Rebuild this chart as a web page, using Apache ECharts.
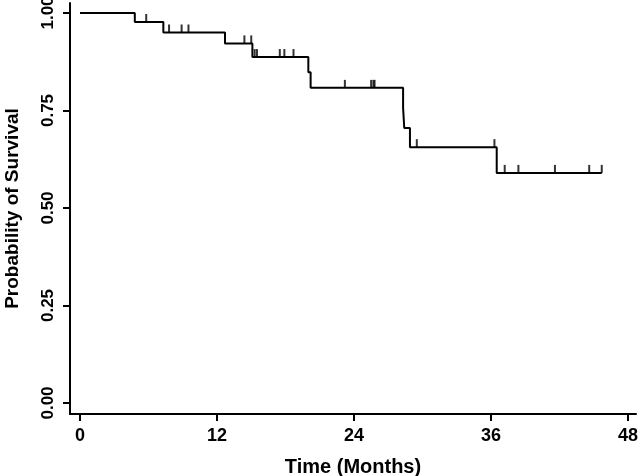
<!DOCTYPE html>
<html>
<head>
<meta charset="utf-8">
<script src="https://cdn.jsdelivr.net/npm/echarts@6/dist/echarts.min.js"></script>
<style>
html,body{margin:0;padding:0;background:#fff;}
#chart{width:640px;height:476px;}
</style>
</head>
<body>
<div id="chart"></div>
<script>
// Kaplan-Meier step points: time (months) and survival after that time
var stepTimes = [0, 4.8, 7.3, 12.7, 15.1, 20.0, 20.2, 28.3, 28.4, 28.9, 36.5, 45.7];
var stepSurv  = [1.0, 0.977, 0.950, 0.922, 0.887, 0.848, 0.808, 0.757, 0.705, 0.656, 0.590, 0.590];
// Censored observations: time and survival level
var censorTimes = [5.8, 7.8, 8.9, 9.5, 14.4, 15.0, 15.3, 15.5, 17.5, 17.9, 18.7, 23.2, 25.5, 25.7, 25.8, 29.5, 36.3, 37.2, 38.4, 41.6, 44.6, 45.7];
var censorSurv  = [0.977, 0.950, 0.950, 0.950, 0.922, 0.922, 0.887, 0.887, 0.887, 0.887, 0.887, 0.808, 0.808, 0.808, 0.808, 0.656, 0.656, 0.590, 0.590, 0.590, 0.590, 0.590];
var xTicks = [0, 12, 24, 36, 48];
var yTicks = [0, 0.25, 0.5, 0.75, 1.0];

var stepData = stepTimes.map(function(t,i){return [t, stepSurv[i]];});
var censorData = censorTimes.map(function(t,i){return [t, censorSurv[i]];});

var chart = echarts.init(document.getElementById('chart'), null, {renderer:'canvas'});
var font = '"Liberation Sans", Arial, sans-serif';
chart.setOption({
  animation:false,
  backgroundColor:'#fff',
  grid:{left:70, right:4, top:3, bottom:62, containLabel:false, outerBoundsMode:'none'},
  xAxis:{
    type:'value', min:-0.876, max:48.7,
    name:'Time (Months)', nameLocation:'middle', nameGap:43,
    nameTextStyle:{fontFamily:font, fontWeight:'bold', fontSize:20, color:'#000'},
    axisLine:{show:true, onZero:false, lineStyle:{color:'#000', width:2}},
    axisTick:{show:true, length:7, customValues:xTicks, lineStyle:{color:'#000', width:2}},
    axisLabel:{customValues:xTicks, margin:13, fontFamily:font, fontWeight:'bold', fontSize:18, color:'#000',
      formatter:function(v){return String(v);}},
    splitLine:{show:false}
  },
  yAxis:{
    type:'value', min:-0.0282, max:1.0256,
    name:'Probability of Survival', nameLocation:'middle', nameGap:48,
    nameTextStyle:{fontFamily:font, fontWeight:'bold', fontSize:19, color:'#000'},
    axisLine:{show:true, onZero:false, lineStyle:{color:'#000', width:2}},
    axisTick:{show:true, length:7, customValues:yTicks, lineStyle:{color:'#000', width:2}},
    axisLabel:{customValues:yTicks, rotate:90, margin:13, fontFamily:font, fontWeight:'bold', fontSize:17, color:'#000',
      formatter:function(v){return v.toFixed(2);}},
    splitLine:{show:false}
  },
  series:[
    {type:'line', step:'end', data:stepData, showSymbol:false, symbol:'none',
     lineStyle:{color:'#000', width:2}},
    {type:'scatter', data:censorData, symbol:'rect', symbolSize:[2,8], symbolOffset:[0,-4],
     itemStyle:{color:'#000'}}
  ]
});
</script>
</body>
</html>
